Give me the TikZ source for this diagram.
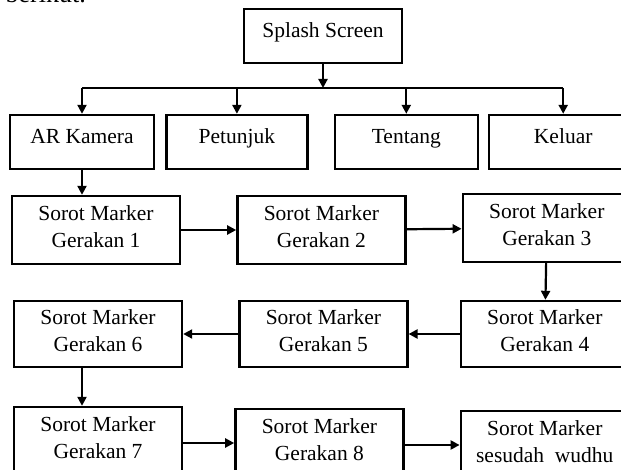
\documentclass[tikz,border=0pt]{standalone}
\usepackage{fontspec}
\setmainfont{Liberation Serif}
\usetikzlibrary{arrows.meta,positioning}
\tikzset{menubox/.style={draw,line width=2.4pt,minimum height=54pt,align=center,
    inner sep=2pt,font=\fontsize{21.5}{27}\selectfont,text depth=11pt},
  gerakbox/.style={menubox,minimum width=168pt,minimum height=68pt,text depth=6pt},
  flow/.style={-{Triangle[length=9pt,width=9pt]},line width=2.2pt},
  busline/.style={line width=2.2pt}}

\begin{document}
\begin{tikzpicture}[x=1pt,y=-1pt]
  \useasboundingbox (0,0) rectangle (621,470);
  \clip (0,0) rectangle (621,470);
  \node[anchor=base east,font=\fontsize{26}{30}\selectfont,inner sep=0pt] (lead) at (86,3) {berikut.};
  % menu utama
  \node[menubox,minimum width=158pt] (splash) at (323,36) {Splash Screen};
  \node[menubox,minimum width=144pt] (ar) at (82,142) {AR Kamera};
  \node[menubox,minimum width=141pt,right=10pt of ar] (pet) {Petunjuk};
  \node[menubox,minimum width=143pt,right=25pt of pet] (ten) {Tentang};
  \node[menubox,minimum width=148pt,right=9pt of ten] (kel) {Keluar};
  \coordinate (bus) at (323,88);
  \draw[flow] (splash.south) -- (bus);
  \draw[busline] (ar.north |- bus) -- (kel.north |- bus);
  \foreach \m in {ar,pet,ten,kel}
    \draw[flow] (\m.north |- bus) -- (\m.north);
  % gerakan wudhu
  \node[gerakbox] (g1) at (96,230) {Sorot Marker\\Gerakan 1};
  \node[gerakbox,right=55pt of g1] (g2) {Sorot Marker\\Gerakan 2};
  \node[gerakbox,right=55pt of g2,yshift=2pt] (g3) {Sorot Marker\\Gerakan 3};
  \node[gerakbox,minimum height=66pt] (g6) at (98,334) {Sorot Marker\\Gerakan 6};
  \node[gerakbox,minimum height=66pt,right=55pt of g6] (g5) {Sorot Marker\\Gerakan 5};
  \node[gerakbox,minimum height=66pt,right=51pt of g5] (g4) {Sorot Marker\\Gerakan 4};
  \node[gerakbox] (g7) at (98,441) {Sorot Marker\\Gerakan 7};
  \node[gerakbox,right=51pt of g7,yshift=-2pt] (g8) {Sorot Marker\\Gerakan 8};
  \node[gerakbox,right=55pt of g8,yshift=-2pt] (g9) {Sorot Marker\\sesudah\ \ wudhu};
  \draw[flow] (ar.south) -- (ar.south |- g1.north);
  \draw[flow] (g1) -- (g2);
  \draw[flow] (g2) -- (g3);
  \draw[flow] (g3) -- (g4);
  \draw[flow] (g4) -- (g5);
  \draw[flow] (g5) -- (g6);
  \draw[flow] (g6.south -| ar) -- (g7.north -| ar);
  \draw[flow] (g7.east |- g8) -- (g8);
  \draw[flow] (g8.east |- g9) -- (g9);
\end{tikzpicture}
\end{document}
